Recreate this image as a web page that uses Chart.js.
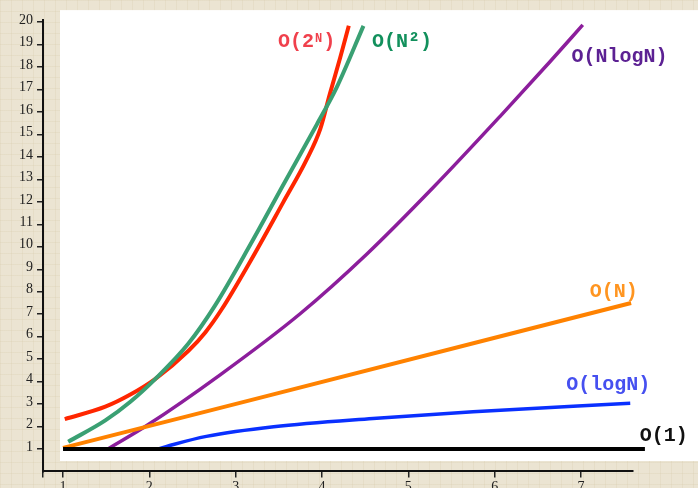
<!DOCTYPE html>
<html>
<head>
<meta charset="utf-8">
<script src="https://cdn.jsdelivr.net/npm/chart.js@4.4.0/dist/chart.umd.min.js"></script>
<style>
  html, body { margin: 0; padding: 0; }
  body {
    width: 698px; height: 488px; overflow: hidden;
    background-color: #ebe4d2;
    background-image:
      linear-gradient(rgba(214,200,170,0.25) 1px, transparent 1px),
      linear-gradient(90deg, rgba(214,200,170,0.25) 1px, transparent 1px);
    background-size: 11px 11px;
  }
  canvas { display: block; }
</style>
</head>
<body>
<canvas id="c" width="698" height="488"></canvas>
<script>
// ---- Data ----
const xTickValues = [1, 2, 3, 4, 5, 6, 7];
const yTickValues = [1, 2, 3, 4, 5, 6, 7, 8, 9, 10, 11, 12, 13, 14, 15, 16, 17, 18, 19, 20];

const constX = [1, 7.74];
const constY = [1, 1];

const logX = [2.09, 2.28, 2.66, 3.44, 4.59, 5.75, 7.57];
const logY = [0.98, 1.2, 1.56, 1.99, 2.36, 2.66, 3.03];

const linX = [1, 3.22, 7.58];
const linY = [1.05, 3.22, 7.5];

const nlognX = [1.52, 1.97, 2.82, 3.75, 4.52, 5.29, 6.06, 6.64, 7.02];
const nlognY = [1.0, 2.04, 4.30, 7.03, 9.68, 12.65, 15.80, 18.24, 19.88];

const quadX = [1.06, 1.49, 1.78, 2.07, 2.45, 2.76, 3.17, 3.55, 3.94, 4.17, 4.48];
const quadY = [1.32, 2.27, 3.1, 4.12, 5.68, 7.38, 10.1, 12.75, 15.45, 17.1, 19.84];

const expX = [1.02, 1.49, 1.78, 2.07, 2.45, 2.65, 2.84, 3.17, 3.55, 3.82, 3.98, 4.09, 4.21, 4.31];
const expY = [2.33, 2.88, 3.42, 4.12, 5.36, 6.2, 7.23, 9.36, 11.98, 13.87, 15.25, 16.8, 18.42, 19.84];

const seriesNames = ['O(1)', 'O(logN)', 'O(N)', 'O(NlogN)', 'O(N^2)', 'O(2^N)'];

function pts(xs, ys) { return xs.map((x, i) => ({ x: x, y: ys[i] })); }

function ds(label, xs, ys, color, width) {
  return {
    label: label,
    data: pts(xs, ys),
    borderColor: color,
    backgroundColor: color,
    borderWidth: width,
    pointRadius: 0,
    showLine: true,
    cubicInterpolationMode: 'monotone',
    borderCapStyle: 'butt',
    clip: false
  };
}

// curve name labels (anchored in data units)
const curveLabels = [
  { parts: [{ t: 'O(2' }, { t: 'N', sup: true }, { t: ')' }], x: 3.49, y: 18.91, color: '#f0404c' },
  { parts: [{ t: 'O(N²)' }], x: 4.58, y: 18.91, color: '#12905c' },
  { parts: [{ t: 'O(NlogN)' }], x: 6.89, y: 18.21, color: '#5c2193' },
  { parts: [{ t: 'O(N)' }], x: 7.10, y: 7.78, color: '#ff9520' },
  { parts: [{ t: 'O(logN)' }], x: 6.83, y: 3.62, color: '#4650f0' },
  { parts: [{ t: 'O(1)' }], x: 7.68, y: 1.37, color: '#111111' }
];

const FONT_MAIN = "bold 20px 'Liberation Mono', 'Courier New', monospace";
const FONT_SUP = "bold 12px 'Liberation Mono', 'Courier New', monospace";

const whitePanel = {
  id: 'whitePanel',
  beforeDraw(chart) {
    const { ctx, scales: { x, y } } = chart;
    const left = x.getPixelForValue(0.965);
    const top = y.getPixelForValue(20.54);
    const bottom = y.getPixelForValue(0.463);
    ctx.save();
    ctx.fillStyle = '#ffffff';
    ctx.fillRect(left, top, chart.width - left, bottom - top);
    ctx.restore();
  }
};

const textLabels = {
  id: 'textLabels',
  afterDatasetsDraw(chart) {
    const { ctx, scales: { x, y } } = chart;
    ctx.save();
    ctx.textBaseline = 'alphabetic';
    ctx.textAlign = 'left';
    curveLabels.forEach(l => {
      let px = x.getPixelForValue(l.x);
      const py = y.getPixelForValue(l.y);
      ctx.fillStyle = l.color;
      l.parts.forEach(p => {
        if (p.sup) {
          ctx.font = FONT_SUP;
          ctx.fillText(p.t, px + 1, py - 5);
          px += ctx.measureText(p.t).width + 2;
        } else {
          ctx.font = FONT_MAIN;
          ctx.fillText(p.t, px, py);
          px += ctx.measureText(p.t).width;
        }
      });
    });
    ctx.restore();
  }
};

const X_MIN = 0.768, X_MAX = 7.602, Y_MIN = 0, Y_MAX = 20.1;

new Chart(document.getElementById('c'), {
  type: 'scatter',
  data: {
    datasets: [
      ds(seriesNames[0], constX, constY, '#000000', 4),
      ds(seriesNames[1], logX, logY, '#0a30ff', 3.5),
      ds(seriesNames[2], linX, linY, '#ff8200', 4),
      ds(seriesNames[3], nlognX, nlognY, '#8c1e9c', 3.5),
      ds(seriesNames[4], quadX, quadY, '#3aa073', 4),
      ds(seriesNames[5], expX, expY, '#ff2600', 4)
    ]
  },
  options: {
    responsive: false,
    animation: false,
    layout: { padding: { top: 20, right: 65, left: 0, bottom: 0 } },
    plugins: {
      legend: { display: false },
      tooltip: { enabled: false },
      title: { display: false }
    },
    scales: {
      x: {
        type: 'linear',
        min: X_MIN, max: X_MAX,
        afterBuildTicks(scale) {
          scale.ticks = [{ value: X_MIN }].concat(xTickValues.map(v => ({ value: v })));
        },
        afterFit(scale) { scale.height = 16.6; },
        ticks: {
          autoSkip: false,
          maxRotation: 0,
          padding: 2,
          color: '#222',
          font: { family: "'Liberation Serif', 'Times New Roman', serif", size: 14 },
          callback: (v) => (xTickValues.includes(v) ? String(v) : '')
        },
        grid: { drawOnChartArea: false, drawTicks: true, tickLength: 6, color: '#222', lineWidth: 1.5 },
        border: { display: true, color: '#111', width: 2 }
      },
      y: {
        type: 'linear',
        min: Y_MIN, max: Y_MAX,
        afterBuildTicks(scale) {
          scale.ticks = yTickValues.map(v => ({ value: v }));
        },
        afterFit(scale) { scale.width = 43; },
        ticks: {
          autoSkip: false,
          padding: 4,
          labelOffset: -2,
          color: '#222',
          font: { family: "'Liberation Serif', 'Times New Roman', serif", size: 14 },
          callback: (v) => String(v)
        },
        grid: { drawOnChartArea: false, drawTicks: true, tickLength: 6, color: '#222', lineWidth: 1.5 },
        border: { display: true, color: '#111', width: 2 }
      }
    }
  },
  plugins: [whitePanel, textLabels]
});
</script>
</body>
</html>
